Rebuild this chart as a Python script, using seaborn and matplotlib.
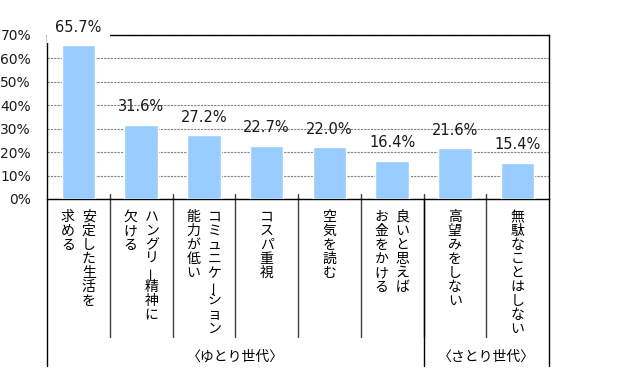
import matplotlib
matplotlib.use("Agg")
import matplotlib.pyplot as plt
import matplotlib.transforms as mtransforms
import seaborn as sns

# data
categories = ["安定した生活を\n求める", "ハングリー精神に\n欠ける", "コミュニケーション\n能力が低い",
              "コスパ重視", "空気を読む", "良いと思えば\nお金をかける", "高望みをしない",
              "無駄なことはしない"]
values = [65.7, 31.6, 27.2, 22.7, 22.0, 16.4, 21.6, 15.4]
groups = ["〈ゆとり世代〉", "〈さとり世代〉"]
group_sizes = [6, 2]
yticks = [0, 10, 20, 30, 40, 50, 60, 70]

sns.set_style("white")
plt.rcParams['font.family'] = ['DejaVu Sans', 'Noto Sans CJK JP']
jp = ['Noto Sans CJK JP', 'DejaVu Sans']

fig = plt.figure(figsize=(6.4, 3.85), dpi=100)
ax = fig.add_axes([47/640, 1-199/385, 502/640, 164/385])

sns.barplot(x=list(range(len(values))), y=values, color='#99CCFF', width=0.53,
            saturation=1, ax=ax, zorder=3)
ax.set_xlim(-0.5, len(values)-0.5)
ax.set_ylim(0, 70)
ax.set_yticks(yticks)
ax.set_yticklabels([f"{v}%" for v in yticks], fontsize=10, color='#1a1a1a')
ax.tick_params(axis='y', length=0, pad=11.5)
ax.set_xticks([])
ax.set_xlabel("")
ax.yaxis.grid(True, linestyle=(0, (2, 1)), color='#808080', lw=0.8, zorder=0)
for s in ax.spines.values():
    s.set_color('black')
    s.set_linewidth(1.0)

# data labels (the one poking above the frame gets a white box, like the original)
for i, v in enumerate(values):
    box = dict(boxstyle='square,pad=0.55', fc='white', ec='none') if v > 60 else None
    ax.annotate(f"{v:.1f}%", (i, v), xytext=(0, 13), textcoords='offset points',
                ha='center', va='center', fontsize=10.5, color='#1a1a1a', zorder=5,
                bbox=box, annotation_clip=False)

trans = mtransforms.blended_transform_factory(ax.transData, ax.transAxes)
ah = 164.0

# category separators
for i in range(len(values) - 1):
    ax.plot([i+0.5, i+0.5], [5/ah, -138/ah], transform=trans, color='#404040',
            lw=1.0, clip_on=False)

# group boundaries
bounds = [-0.5]
for g in group_sizes:
    bounds.append(bounds[-1] + g)
for b in bounds:
    ax.plot([b, b], [0, -167/ah], transform=trans, color='black', lw=1.0, clip_on=False)

# vertical Japanese labels, one character at a time (first line on the right)
col = 10.5/62.75
pitch = 14.0
for i, cat in enumerate(categories):
    lines = cat.split("\n")
    n = len(lines)
    for j, line in enumerate(lines):
        x = i if n == 1 else i + col - j*2*col
        for k, ch in enumerate(line):
            y = -(18 + k*pitch)/ah
            rot = 90 if ch == "ー" else 0
            ax.text(x, y, ch, transform=trans, ha='center', va='center',
                    fontsize=10, family=jp, rotation=rot, color='black')

# group labels
for k, g in enumerate(groups):
    xc = (bounds[k] + bounds[k+1]) / 2
    ax.text(xc, -158/ah, g, transform=trans, ha='center', va='center',
            fontsize=10, family=jp, color='black')

fig.savefig("out.png", dpi=100, facecolor='white')
